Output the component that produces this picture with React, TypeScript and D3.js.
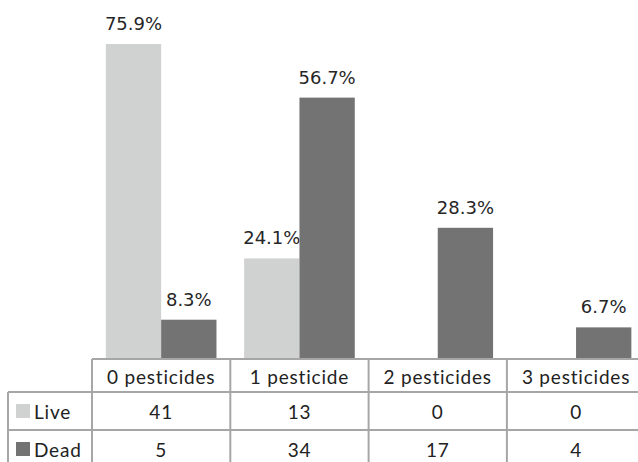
import React, { useEffect, useRef } from "react";
import * as d3 from "d3";

const categories = ["0 pesticides", "1 pesticide", "2 pesticides", "3 pesticides"];
const seriesNames = ["Live", "Dead"];
const liveCounts = [41, 13, 0, 0];
const deadCounts = [5, 34, 17, 4];
const liveLabels = ["75.9%", "24.1%", "", ""];
const deadLabels = ["8.3%", "56.7%", "28.3%", "6.7%"];

const colors = ["#d0d1d1", "#737373"];
const gridColor = "#a6a6a6";

const App = () => {
  const ref = useRef<SVGSVGElement>(null);

  const width = 638;
  const height = 462;
  const margin = { top: 44, left: 92, bottom: 359 };

  useEffect(() => {
    const svg = d3.select(ref.current);
    svg.selectAll("*").remove();

    const step = 138.3;
    const x = d3
      .scaleBand()
      .domain(categories)
      .range([margin.left, margin.left + step * categories.length])
      .paddingInner(0.2)
      .paddingOuter(0.1);
    const x1 = d3.scaleBand().domain(seriesNames).range([0, x.bandwidth()]);

    const maxVal = d3.max([...liveCounts, ...deadCounts]) as number;
    const y = d3.scaleLinear().domain([0, maxVal]).range([margin.bottom - 1, margin.top]);

    const series = [
      { name: "Live", values: liveCounts, labels: liveLabels },
      { name: "Dead", values: deadCounts, labels: deadLabels },
    ];

    series.forEach((s, si) => {
      const g = svg.append("g");
      g.selectAll("rect")
        .data(categories)
        .enter()
        .filter((_, i) => s.values[i] > 0)
        .append("rect")
        .attr("x", (d) => (x(d) as number) + (x1(s.name) as number))
        .attr("y", (d) => y(s.values[categories.indexOf(d)]))
        .attr("width", x1.bandwidth())
        .attr("height", (d) => y(0) - y(s.values[categories.indexOf(d)]))
        .style("fill", colors[si]);

      g.selectAll("text")
        .data(categories)
        .enter()
        .filter((_, i) => s.labels[i] !== "")
        .append("text")
        .attr("x", (d) => (x(d) as number) + (x1(s.name) as number) + x1.bandwidth() / 2)
        .attr("y", (d) => y(s.values[categories.indexOf(d)]) - 14)
        .attr("text-anchor", "middle")
        .style("font-family", "DejaVu Sans")
        .style("font-size", "18px")
        .style("fill", "#262626")
        .text((d) => s.labels[categories.indexOf(d)]);
    });

    // data table under the plot
    const rows = [margin.bottom, 392, 430, 468];
    const colEdges = categories.map((c) => (x(c) as number) - (x.step() * x.paddingOuter()));
    const table = svg.append("g").style("stroke", gridColor).style("stroke-width", 2);

    table.append("line").attr("x1", margin.left).attr("x2", width).attr("y1", rows[0]).attr("y2", rows[0]);
    [rows[1], rows[2]].forEach((ry) => {
      table.append("line").attr("x1", 8).attr("x2", width).attr("y1", ry).attr("y2", ry);
    });
    table.append("line").attr("x1", 8).attr("x2", 8).attr("y1", rows[1]).attr("y2", height);
    colEdges.forEach((cx) => {
      table.append("line").attr("x1", cx).attr("x2", cx).attr("y1", rows[0]).attr("y2", height);
    });

    const cellFont = (sel: any) =>
      sel
        .style("font-family", "Lato")
        .style("font-size", "19px")
        .style("letter-spacing", "0.8px")
        .style("fill", "#222");

    categories.forEach((c) => {
      const cx = (x(c) as number) + x.bandwidth() / 2;
      cellFont(
        svg.append("text")
          .attr("x", cx)
          .attr("y", (rows[0] + rows[1]) / 2 + 2)
          .attr("dy", "0.35em")
          .attr("text-anchor", "middle")
          .text(c)
      );
    });

    series.forEach((s, si) => {
      const cy = (rows[si + 1] + rows[si + 2]) / 2 + 1;
      svg.append("rect")
        .attr("x", 16)
        .attr("y", cy - 8)
        .attr("width", 14)
        .attr("height", 14)
        .style("fill", colors[si]);
      cellFont(svg.append("text").attr("x", 34).attr("y", cy).attr("dy", "0.35em").text(s.name));
      categories.forEach((c, i) => {
        cellFont(
          svg.append("text")
            .attr("x", (x(c) as number) + x.bandwidth() / 2)
            .attr("y", cy)
            .attr("dy", "0.35em")
            .attr("text-anchor", "middle")
            .text(String(s.values[i]))
        );
      });
    });
  }, []);

  return (
    <svg
      ref={ref}
      width={width}
      height={height}
      style={{ position: "absolute", left: 0, top: 0, background: "#fff" }}
    />
  );
};

export default App;
